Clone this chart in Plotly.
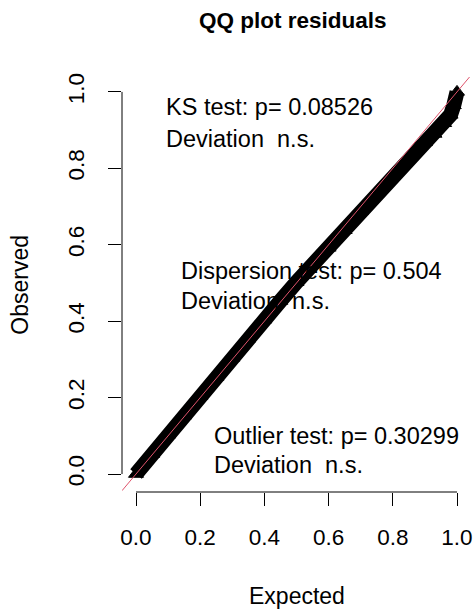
import plotly.graph_objects as go

# ---- data ----
expected = [0.0, 0.05, 0.10, 0.15, 0.20, 0.25, 0.30, 0.35, 0.40, 0.45, 0.50,
            0.55, 0.60, 0.65, 0.70, 0.75, 0.80, 0.85, 0.90, 0.93, 0.96, 0.98,
            0.99, 1.0]
observed = [0.0, 0.052, 0.103, 0.153, 0.204, 0.254, 0.304, 0.354, 0.404, 0.453,
            0.502, 0.548, 0.592, 0.638, 0.688, 0.738, 0.783, 0.828, 0.868, 0.890,
            0.918, 0.940, 0.965, 1.0]

tick_vals = [0.0, 0.2, 0.4, 0.6, 0.8, 1.0]
tick_text = ["0.0", "0.2", "0.4", "0.6", "0.8", "1.0"]

title_text = "QQ plot residuals"
x_title = "Expected"
y_title = "Observed"
ks_p = "0.08526"
disp_p = "0.504"
out_p = "0.30299"

x_range = [-0.0436, 1.0436]
y_range = [-0.047, 1.039]

FONT = "Liberation Sans, Arial, sans-serif"
RED = "#DF536B"

fig = go.Figure()

# residual band (many overlapping triangles in the original)
fig.add_trace(go.Scatter(
    x=expected, y=observed, mode="lines+markers",
    line=dict(color="black", width=15),
    marker=dict(symbol="triangle-up", size=13, color="black",
                line=dict(color="black", width=1)),
    hoverinfo="skip", showlegend=False))

# 1:1 reference line across the whole plot region
fig.add_trace(go.Scatter(
    x=x_range, y=x_range, mode="lines",
    line=dict(color=RED, width=1), hoverinfo="skip", showlegend=False))

axis_common = dict(
    showgrid=False, zeroline=False, showline=False,
    ticks="outside", ticklen=13, tickwidth=1, tickcolor="black",
    tickvals=tick_vals, ticktext=tick_text,
    tickfont=dict(family=FONT, size=22.5, color="black"),
    automargin=False, fixedrange=True)

fig.update_xaxes(range=x_range, ticklabelstandoff=12, **axis_common)
fig.update_yaxes(range=y_range, tickangle=-90, ticklabelstandoff=15, **axis_common)

# R-style axis lines that only span the tick range
fig.add_shape(type="line", xref="x", yref="paper", x0=tick_vals[0], x1=tick_vals[-1],
              y0=0, y1=0, line=dict(color="black", width=1))
fig.add_shape(type="line", xref="paper", yref="y", x0=0, x1=0,
              y0=tick_vals[0], y1=tick_vals[-1], line=dict(color="black", width=1))

ann_font = dict(family=FONT, size=23.5, color="black")
annotations = [
    dict(text=f"KS test: p= {ks_p}", x=0.087, y=0.961),
    dict(text="Deviation \u00a0n.s.", x=0.087, y=0.877),
    dict(text=f"Dispersion test: p= {disp_p}", x=0.134, y=0.531),
    dict(text="Deviation \u00a0n.s.", x=0.134, y=0.453),
    dict(text=f"Outlier test: p= {out_p}", x=0.238, y=0.0995),
    dict(text="Deviation \u00a0n.s.", x=0.238, y=0.0236),
]
for a in annotations:
    fig.add_annotation(xref="x", yref="y", xanchor="left", yanchor="middle",
                       showarrow=False, font=ann_font, **a)

fig.add_annotation(text=f"<b>{title_text}</b>", xref="paper", yref="paper",
                   x=0.49, y=1.137, xanchor="center", yanchor="middle",
                   showarrow=False, font=dict(family=FONT, size=22.5, color="black"))
fig.add_annotation(text=x_title, xref="paper", yref="paper",
                   x=0.5, y=-0.2505, xanchor="center", yanchor="middle",
                   showarrow=False, font=dict(family=FONT, size=23, color="black"))
fig.add_annotation(text=y_title, xref="paper", yref="paper",
                   x=-0.2945, y=0.5, xanchor="center", yanchor="middle", textangle=-90,
                   showarrow=False, font=dict(family=FONT, size=23, color="black"))

fig.update_layout(
    width=475, height=612,
    margin=dict(l=122, r=4, t=77, b=120, autoexpand=False),
    paper_bgcolor="white", plot_bgcolor="white",
    showlegend=False)

fig.write_html("out.html", config={"displayModeBar": False})
